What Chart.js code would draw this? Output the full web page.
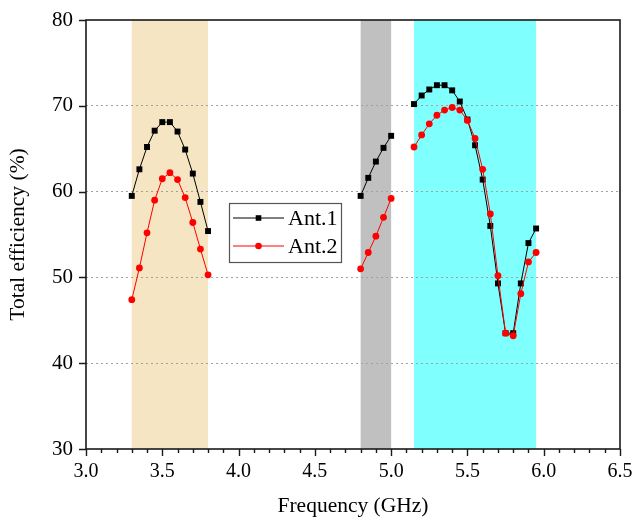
<!DOCTYPE html>
<html>
<head>
<meta charset="utf-8">
<script src="https://cdn.jsdelivr.net/npm/chart.js@4/dist/chart.umd.min.js"></script>
<style>
  html, body { margin: 0; padding: 0; background: #fff; }
  #wrap { width: 634px; height: 521px; }
</style>
</head>
<body>
<div id="wrap"><canvas id="c" width="634" height="521"></canvas></div>
<script>
// Frequency sweeps (GHz), one per measured band
const freqLow  = [3.30, 3.35, 3.40, 3.45, 3.50, 3.55, 3.60, 3.65, 3.70, 3.75, 3.80];
const freqMid  = [4.80, 4.85, 4.90, 4.95, 5.00];
const freqHigh = [5.15, 5.20, 5.25, 5.30, 5.35, 5.40, 5.45, 5.50, 5.55, 5.60, 5.65, 5.70, 5.75, 5.80, 5.85, 5.90, 5.95];

// Total efficiency (%) of each antenna in each band
const ant1Low  = [59.5, 62.6, 65.2, 67.1, 68.1, 68.1, 67.0, 64.9, 62.1, 58.8, 55.4];
const ant1Mid  = [59.5, 61.6, 63.5, 65.1, 66.5];
const ant1High = [70.2, 71.2, 71.9, 72.4, 72.4, 71.8, 70.5, 68.4, 65.4, 61.4, 56.0, 49.3, 43.5, 43.5, 49.3, 54.0, 55.7];

const ant2Low  = [47.4, 51.1, 55.2, 59.0, 61.5, 62.2, 61.4, 59.3, 56.4, 53.3, 50.3];
const ant2Mid  = [51.0, 52.9, 54.8, 57.0, 59.2];
const ant2High = [65.2, 66.6, 67.9, 68.9, 69.5, 69.8, 69.5, 68.3, 66.2, 62.6, 57.4, 50.2, 43.5, 43.2, 48.1, 51.8, 52.9];

// Shaded operating bands [start, end] in GHz
const bandRanges = [[3.3, 3.8], [4.8, 5.0], [5.15, 5.95]];
const bandColors = ['#F6E5C2', '#C0C0C0', '#80FFFF'];

// Axis ticks
const xTicks = [3.0, 3.5, 4.0, 4.5, 5.0, 5.5, 6.0, 6.5];
const yTicks = [30, 40, 50, 60, 70, 80];
const seriesNames = ['Ant.1', 'Ant.2'];

function toPoints(freqs, vals) {
  return freqs.map((f, i) => ({ x: f, y: vals[i] }));
}
// Join the bands with null breaks so the traces are not connected across gaps
function joinBands(parts) {
  const out = [];
  parts.forEach((p, i) => {
    if (i > 0) out.push({ x: (out[out.length - 1].x + p[0].x) / 2, y: null });
    out.push(...p);
  });
  return out;
}

const ant1Data = joinBands([toPoints(freqLow, ant1Low), toPoints(freqMid, ant1Mid), toPoints(freqHigh, ant1High)]);
const ant2Data = joinBands([toPoints(freqLow, ant2Low), toPoints(freqMid, ant2Mid), toPoints(freqHigh, ant2High)]);

const FONT = "'Liberation Serif', 'Times New Roman', serif";
const AXIS_COLOR = '#1a1a1a';

const bandsPlugin = {
  id: 'bands',
  beforeDraw(chart) {
    const { ctx, chartArea, scales } = chart;
    ctx.save();
    ctx.fillStyle = '#fff';
    ctx.fillRect(0, 0, chart.width, chart.height);
    bandRanges.forEach((r, i) => {
      const x0 = scales.x.getPixelForValue(r[0]);
      const x1 = scales.x.getPixelForValue(r[1]);
      ctx.fillStyle = bandColors[i];
      ctx.fillRect(x0, chartArea.top, x1 - x0, chartArea.bottom - chartArea.top);
    });
    ctx.restore();
  }
};

const framePlugin = {
  id: 'frame',
  afterDraw(chart) {
    const { ctx, chartArea: a, scales } = chart;
    ctx.save();
    ctx.strokeStyle = AXIS_COLOR;
    ctx.lineWidth = 1.6;
    ctx.strokeRect(a.left, a.top, a.right - a.left, a.bottom - a.top);
    ctx.lineWidth = 1.4;
    ctx.beginPath();
    // y major ticks (outward)
    yTicks.forEach(v => {
      const y = Math.round(scales.y.getPixelForValue(v)) + 0.5;
      ctx.moveTo(a.left, y);
      ctx.lineTo(a.left - 7, y);
    });
    // x major and minor ticks (outward)
    for (let k = 0; k <= 35; k++) {
      const v = 3.0 + k * 0.1;
      const x = Math.round(scales.x.getPixelForValue(v)) + 0.5;
      const len = (k % 5 === 0) ? 7 : 4;
      ctx.moveTo(x, a.bottom);
      ctx.lineTo(x, a.bottom + len);
    }
    ctx.stroke();

    // legend
    const bx = 229, by = 203, bw = 112, bh = 59;
    ctx.fillStyle = '#fff';
    ctx.fillRect(bx, by, bw, bh);
    ctx.strokeStyle = '#555';
    ctx.lineWidth = 1.2;
    ctx.strokeRect(bx + 0.5, by + 0.5, bw, bh);
    chart.data.datasets.forEach((ds, i) => {
      const y = by + 15 + i * 28;
      ctx.strokeStyle = ds.borderColor;
      ctx.lineWidth = 1;
      ctx.beginPath();
      ctx.moveTo(bx + 4, y);
      ctx.lineTo(bx + 55, y);
      ctx.stroke();
      ctx.fillStyle = ds.pointBackgroundColor;
      ctx.beginPath();
      if (ds.pointStyle === 'rect') {
        ctx.rect(bx + 29.5 - 2.8, y - 2.8, 5.6, 5.6);
      } else {
        ctx.arc(bx + 29.5, y, 3.3, 0, Math.PI * 2);
      }
      ctx.fill();
      ctx.fillStyle = '#000';
      ctx.font = '22px ' + FONT;
      ctx.textBaseline = 'middle';
      ctx.textAlign = 'left';
      ctx.fillText(ds.label, bx + 59, y + 1);
    });
    ctx.restore();
  }
};

new Chart(document.getElementById('c'), {
  type: 'line',
  data: {
    datasets: [
      {
        label: seriesNames[0],
        data: ant1Data,
        order: 2,
        borderColor: '#000000',
        backgroundColor: '#000000',
        pointBackgroundColor: '#000000',
        pointBorderWidth: 0,
        pointStyle: 'rect',
        pointRadius: 4.2,
        borderWidth: 1,
        spanGaps: false,
        tension: 0
      },
      {
        label: seriesNames[1],
        data: ant2Data,
        order: 1,
        borderColor: '#FF0000',
        backgroundColor: '#FF0000',
        pointBackgroundColor: '#FF0000',
        pointBorderWidth: 0,
        pointStyle: 'circle',
        pointRadius: 3.4,
        borderWidth: 1,
        spanGaps: false,
        tension: 0
      }
    ]
  },
  options: {
    responsive: false,
    animation: false,
    devicePixelRatio: 1,
    layout: { padding: { top: 20, right: 14, left: 0, bottom: 0 } },
    plugins: { legend: { display: false }, tooltip: { enabled: false } },
    scales: {
      x: {
        type: 'linear',
        min: 3.0,
        max: 6.5,
        afterBuildTicks(scale) { scale.ticks = xTicks.map(v => ({ value: v })); },
        afterFit(scale) { scale.height = 72; scale.paddingLeft = 0; scale.paddingRight = 0; },
        ticks: {
          color: '#000',
          font: { family: FONT, size: 20 },
          padding: 11,
          maxRotation: 0,
          autoSkip: false,
          callback: v => Number(v).toFixed(1)
        },
        grid: { display: false, drawTicks: false },
        border: { display: false },
        title: {
          display: true,
          text: 'Frequency (GHz)',
          color: '#000',
          font: { family: FONT, size: 21.5 },
          padding: { top: 0, bottom: 2 }
        }
      },
      y: {
        type: 'linear',
        min: 30,
        max: 80,
        afterBuildTicks(scale) { scale.ticks = yTicks.map(v => ({ value: v })); },
        afterFit(scale) { scale.width = 86; scale.paddingTop = 0; scale.paddingBottom = 0; },
        ticks: {
          color: '#000',
          font: { family: FONT, size: 21 },
          padding: 13,
          autoSkip: false
        },
        grid: {
          drawTicks: false,
          color: ctx => (ctx.tick && (ctx.tick.value === 30 || ctx.tick.value === 80)) ? 'rgba(0,0,0,0)' : '#a0a0a0',
          lineWidth: 1
        },
        border: { display: false, dash: [2, 3] },
        title: {
          display: true,
          text: 'Total efficiency (%)',
          color: '#000',
          font: { family: FONT, size: 21.5 },
          padding: { top: 5, bottom: 0 }
        }
      }
    }
  },
  plugins: [bandsPlugin, framePlugin]
});
</script>
</body>
</html>
